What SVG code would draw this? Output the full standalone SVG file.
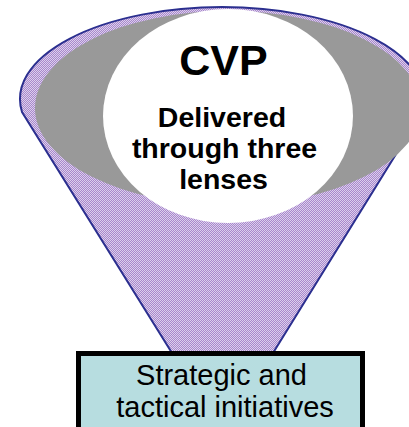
<svg xmlns="http://www.w3.org/2000/svg" width="409" height="427" viewBox="0 0 409 427">
  <defs>
    <pattern id="dots" width="2" height="2" patternUnits="userSpaceOnUse">
      <rect width="2" height="2" fill="#A887CC"/>
      <rect width="1" height="1" fill="#DCD0EC"/>
      <rect x="1" y="1" width="1" height="1" fill="#DCD0EC"/>
    </pattern>
  </defs>
  <style>
    .big { font-family: "Liberation Sans", Arial, sans-serif; font-weight: bold; fill: #000; text-anchor: middle; }
    .box { font-family: "Liberation Sans", Arial, sans-serif; fill: #000; text-anchor: middle; font-size: 29px; }
  </style>
  <rect width="409" height="427" fill="#fff"/>
  <g id="funnel">
    <path d="M 22,112 A 202 92 0 1 1 422,112 L 273,353 L 172,353 Z" fill="url(#dots)" stroke="#2B2F8F" stroke-width="2"/>
    <ellipse cx="228" cy="108" rx="193" ry="97" fill="#999999"/>
    <ellipse cx="228" cy="116" rx="125" ry="107" fill="#ffffff"/>
  </g>
  <g id="cvp">
    <text class="big" x="223.5" y="75" font-size="43">CVP</text>
    <text class="big" x="222" y="127" font-size="28.5">Delivered</text>
    <text class="big" x="224.5" y="158" font-size="28.5">through three</text>
    <text class="big" x="223.5" y="189" font-size="28.5">lenses</text>
  </g>
  <g id="initiatives">
    <rect x="78.5" y="353.5" width="284" height="76" fill="#B7DDE0" stroke="#000" stroke-width="5"/>
    <text class="box" x="221.5" y="385">Strategic and</text>
    <text class="box" x="225" y="417">tactical initiatives</text>
  </g>
  <g id="connectors"/>
</svg>
